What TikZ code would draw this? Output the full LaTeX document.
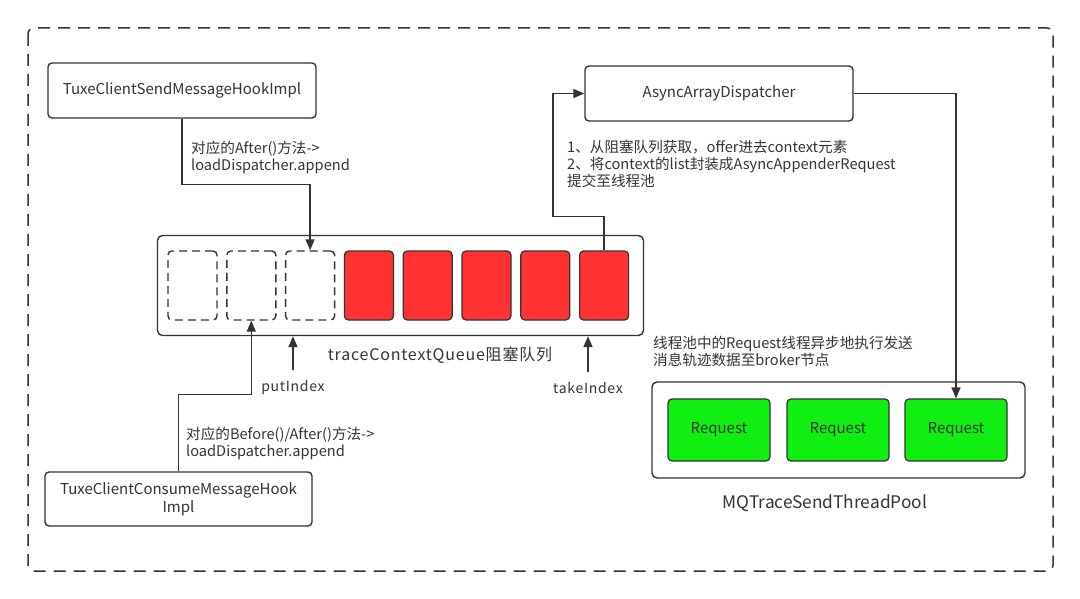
\documentclass[tikz,border=0pt]{standalone}
\usepackage{fontspec}
\setmainfont{Noto Sans CJK SC}
\usetikzlibrary{arrows.meta}
\definecolor{qred}{HTML}{FF3333}
\definecolor{qgreen}{HTML}{11EE11}
\definecolor{txtgray}{HTML}{333333}
\definecolor{lngray}{HTML}{333333}

\tikzset{
  hookbox/.style={draw=lngray,line width=1.4pt,rounded corners=4pt,fill=white,
    minimum height=55,text=txtgray,align=center,font=\fontsize{15}{18}\selectfont},
  holder/.style={draw=lngray,line width=1.4pt,rounded corners=5pt,fill=white},
  emptycell/.style={draw=lngray,line width=1.4pt,rounded corners=4pt,
    dash pattern=on 8pt off 5pt,minimum width=49,minimum height=69},
  fullcell/.style={draw=lngray,line width=1.2pt,rounded corners=4pt,fill=qred,
    minimum width=49,minimum height=69},
  reqbox/.style={draw=lngray,line width=1.2pt,rounded corners=4pt,fill=qgreen,
    minimum width=102,minimum height=62,text=txtgray,font=\fontsize{15}{18}\selectfont},
  note/.style={text=txtgray,align=left,inner sep=0pt,font=\fontsize{14.6}{17}\selectfont},
  idx/.style={text=txtgray,font=\fontsize{14}{17}\selectfont\addfontfeatures{LetterSpace=5}},
  flow/.style={draw=lngray,line width=1.4pt,-{Triangle[length=11pt,width=9pt]}}
}

\begin{document}
\begin{tikzpicture}[x=1pt,y=-1pt]
  \useasboundingbox (0,0) rectangle (1080,599);

  % --- outer frame ---
  \draw[lngray,line width=1.5pt,rounded corners=6pt,dash pattern=on 12pt off 8pt]
    (28,28) rectangle (1053,571);

  % --- hooks and dispatcher ---
  \node[hookbox,minimum width=268] (send) at (182,90.5) {TuxeClientSendMessageHookImpl};
  \node[hookbox,minimum width=267,minimum height=54] (consume) at (178.5,499)
    {TuxeClientConsumeMessageHook\\Impl};
  \node[hookbox,minimum width=268] (disp) at (719,93.5) {AsyncArrayDispatcher};

  % --- blocking queue ---
  \node[holder,minimum width=486,minimum height=100] (queue) at (400.5,285.5) {};
  \foreach \i in {1,2,3}
    \node[emptycell] (cell\i) at ({192.5+58.8*(\i-1)},285.5) {};
  \foreach \i in {4,...,8}
    \node[fullcell] (cell\i) at ({192.5+58.8*(\i-1)},285.5) {};
  \node[text=txtgray,font=\fontsize{16}{19}\selectfont\addfontfeatures{LetterSpace=5}]
    (qname) at (440,355) {traceContextQueue阻塞队列};

  % --- queue indexes ---
  \node[idx] (putlbl) at (293,388) {putIndex};
  \node[idx] (takelbl) at (588,388) {takeIndex};
  \draw[flow] ([yshift=7pt]putlbl.north) -- (putlbl.north |- queue.south);
  \draw[flow] ([yshift=7pt]takelbl.north) -- (takelbl.north |- queue.south);

  % --- thread pool ---
  \node[holder,minimum width=373,minimum height=96] (pool) at (838.5,430) {};
  \node[reqbox] (req1) at (719,430) {Request};
  \node[reqbox] (req2) at (838,430) {Request};
  \node[reqbox] (req3) at (956,430) {Request};
  \node[text=txtgray,font=\fontsize{17.3}{20}\selectfont] (pname) at (825,503)
    {MQTraceSendThreadPool};

  % --- connectors ---
  \draw[flow] (send.south) -- ++(0,66) -| (cell3.north);
  \draw[flow] (consume.north) -- ++(0,-77) -| (cell2.south);
  \draw[flow] (cell8.north) -- ++(0,-34) -- ++(-51,0) |- (disp.west);
  \draw[flow] (disp.east) -| (req3.north);

  % --- notes ---
  \node[note,anchor=north west] (sendnote) at (191,141)
    {对应的After()方法->\\loadDispatcher.append};
  \node[note,anchor=north west] (consnote) at (186,427)
    {对应的Before()/After()方法->\\loadDispatcher.append};
  \node[note,anchor=north west] (dispnote) at (567,140)
    {1、从阻塞队列获取，offer进去context元素\\2、将context的list封装成AsyncAppenderRequest\\提交至线程池};
  \node[note,anchor=north west] (poolnote) at (653,336)
    {线程池中的Request线程异步地执行发送\\消息轨迹数据至broker节点};

\end{tikzpicture}
\end{document}
